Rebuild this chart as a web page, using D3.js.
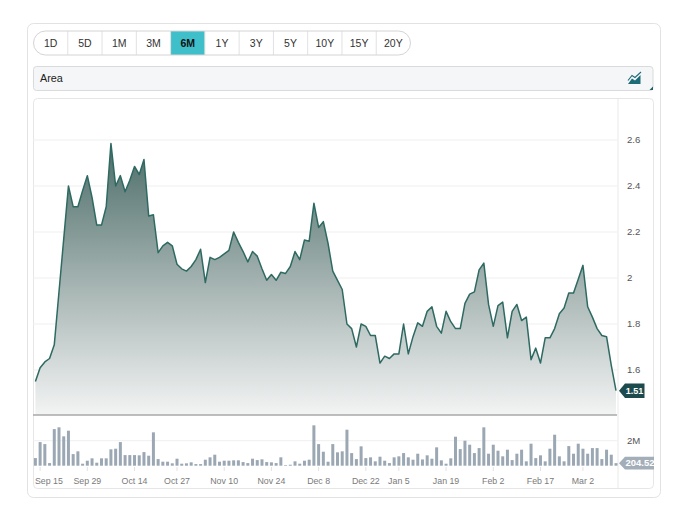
<!DOCTYPE html>
<html><head><meta charset="utf-8">
<script src="https://cdn.jsdelivr.net/npm/d3@7"></script>
<style>
html,body{margin:0;padding:0;background:#fff;}
svg{display:block;font-family:"Liberation Sans",Arial,sans-serif;}
</style></head><body>
<svg id="c" width="680" height="515"></svg>
<script>
// ---------------- data ----------------
const ranges = ["1D","5D","1M","3M","6M","1Y","3Y","5Y","10Y","15Y","20Y"];
const selectedRange = "6M";
const chartType = "Area";
const startDate = "2025-09-12";
const holidays = ["2025-10-13","2025-12-25","2025-12-26","2026-01-01","2026-02-16"];
const price = [
 1.55,1.61,1.635,1.65,1.71,1.94,2.17,2.40,2.31,2.31,
 2.38,2.445,2.35,2.23,2.23,2.31,2.585,2.40,2.445,2.375,
 2.425,2.485,2.45,2.515,2.27,2.275,2.11,2.14,2.155,2.14,
 2.06,2.04,2.03,2.05,2.08,2.125,1.98,2.09,2.08,2.09,
 2.105,2.12,2.20,2.155,2.115,2.07,2.115,2.095,2.04,1.99,
 2.015,1.99,2.025,2.02,2.05,2.115,2.08,2.165,2.16,2.325,
 2.22,2.245,2.15,2.03,1.99,1.95,1.80,1.78,1.70,1.80,
 1.79,1.75,1.75,1.63,1.66,1.65,1.67,1.67,1.80,1.67,
 1.745,1.805,1.79,1.855,1.875,1.79,1.76,1.855,1.81,1.78,
 1.78,1.89,1.93,1.94,2.035,2.065,1.885,1.79,1.88,1.895,
 1.74,1.855,1.885,1.815,1.83,1.645,1.695,1.63,1.74,1.74,
 1.78,1.845,1.87,1.935,1.935,1.995,2.055,1.875,1.83,1.78,
 1.75,1.745,1.62,1.51
];
const volumeM = [
 0.61,1.89,1.73,0.21,2.93,3.07,2.35,2.80,0.93,1.15,
 0.16,0.40,0.59,0.24,0.59,0.59,1.31,1.36,1.89,0.85,
 0.85,0.85,0.83,1.09,0.80,2.67,0.53,0.32,0.32,0.19,
 0.56,0.16,0.19,0.27,0.13,0.13,0.48,0.67,0.88,0.32,
 0.40,0.40,0.43,0.43,0.29,0.21,0.56,0.45,0.51,0.29,
 0.27,0.21,0.67,0.05,0.08,0.35,0.16,0.40,0.48,3.23,
 1.73,1.12,0.32,1.73,1.07,1.15,2.88,1.01,0.53,1.55,
 0.61,0.67,0.35,0.72,0.40,0.21,0.67,0.75,1.01,0.67,
 0.48,0.96,0.50,0.83,0.56,1.47,0.43,0.16,0.59,2.32,
 1.33,2.00,1.68,1.01,1.41,3.07,0.96,1.68,1.20,0.75,
 1.28,0.45,0.96,1.28,0.35,1.76,0.61,0.83,0.35,1.36,
 2.48,0.75,0.35,1.57,0.96,1.76,1.36,0.96,1.41,1.41,
 0.53,1.28,0.88,0.2045
];
const priceTicks = [1.6,1.8,2,2.2,2.4,2.6];
const volumeTicks = [2];
const dateTickLabels = ["Sep 15","Sep 29","Oct 14","Oct 27","Nov 10","Nov 24","Dec 8","Dec 22","Jan 5","Jan 19","Feb 2","Feb 17","Mar 2"];
const lastPriceLabel = "1.51";
const lastVolumeLabel = "204.52K";

// ---------------- trading dates ----------------
const parse = d3.utcParse("%Y-%m-%d"), keyFmt = d3.utcFormat("%Y-%m-%d"), lblFmt = d3.utcFormat("%b %-d");
const hol = new Set(holidays);
const dates = [];
let cur = parse(startDate);
while (dates.length < price.length) {
  const wd = cur.getUTCDay();
  if (wd !== 0 && wd !== 6 && !hol.has(keyFmt(cur))) dates.push(cur);
  cur = d3.utcDay.offset(cur, 1);
}

// ---------------- layout ----------------
const svg = d3.select("#c");
const L = 33, R = 617, priceTop = 98, priceBot = 415, volBase = 465.7;

// card
svg.append("rect").attr("x",27.5).attr("y",23.5).attr("width",633).attr("height",474)
  .attr("rx",6).attr("fill","#fff").attr("stroke","#e2e2e2");

// range buttons
const bx = d3.scaleBand().domain(ranges).range([33.5, 410.5]);
const btn = svg.append("g");
btn.append("clipPath").attr("id","pill").append("rect")
  .attr("x",33.5).attr("y",31).attr("width",377).attr("height",24).attr("rx",12);
btn.append("rect").attr("x",33.5).attr("y",31).attr("width",377).attr("height",24).attr("rx",12)
  .attr("fill","#fff");
btn.append("rect").attr("clip-path","url(#pill)")
  .attr("x",bx(selectedRange)).attr("y",31).attr("width",bx.bandwidth()).attr("height",24)
  .attr("fill","#3fbfca");
btn.selectAll("line.div").data(ranges.slice(1)).join("line")
  .attr("x1",d=>bx(d)).attr("x2",d=>bx(d)).attr("y1",31).attr("y2",55)
  .attr("stroke","#e1e1e1");
btn.append("rect").attr("x",33.5).attr("y",31).attr("width",377).attr("height",24).attr("rx",12)
  .attr("fill","none").attr("stroke","#d4d4d4");
btn.selectAll("text").data(ranges).join("text")
  .attr("x",d=>bx(d)+bx.bandwidth()/2).attr("y",46.8).attr("text-anchor","middle")
  .attr("font-size",10.5).attr("font-weight",d=>d===selectedRange?"bold":"normal")
  .attr("fill",d=>d===selectedRange?"#111":"#333").text(d=>d);

// chart-type dropdown
svg.append("rect").attr("x",33.5).attr("y",66.5).attr("width",619.5).attr("height",24).attr("rx",3)
  .attr("fill","#f5f6f7").attr("stroke","#d9dadb");
svg.append("text").attr("x",40).attr("y",82).attr("font-size",10.8).attr("fill","#222").text(chartType);
const ic = svg.append("g");
ic.append("path").attr("d","M628,84 L632,78.5 L635,80.5 L640.5,75 L640.5,84 Z").attr("fill","#1e6b78");
ic.append("path").attr("d","M628,80.5 L632,75.5 L635,77.5 L641,72").attr("fill","none")
  .attr("stroke","#1e6b78").attr("stroke-width",1.1);
svg.append("path").attr("d","M653,86.5 L653,90 L649.5,90 Z").attr("fill","#1e5f6a");

// chart box
svg.append("rect").attr("x",33.5).attr("y",98.5).attr("width",620).attr("height",390).attr("rx",4)
  .attr("fill","#fff").attr("stroke","#e6e6e6");
svg.append("line").attr("x1",618).attr("x2",618).attr("y1",99).attr("y2",488)
  .attr("stroke","#e9e9e9");

// scales
const x = d3.scaleLinear().domain([0, price.length-1]).range([35.4, 616]);
const y = d3.scaleLinear().domain([1.6, 2.6]).range([370, 140]);
const yv = d3.scaleLinear().domain([0, 2]).range([volBase, 440.7]);

// clip
const defs = svg.append("defs");
defs.append("clipPath").attr("id","plot").append("rect")
  .attr("x",L).attr("y",priceTop).attr("width",R-L).attr("height",priceBot-priceTop);
defs.append("clipPath").attr("id","box").append("rect")
  .attr("x",33).attr("y",98).attr("width",621).attr("height",391);
const grad = defs.append("linearGradient").attr("id","grad")
  .attr("gradientUnits","userSpaceOnUse").attr("x1",0).attr("x2",0).attr("y1",140).attr("y2",priceBot);
grad.append("stop").attr("offset",0).attr("stop-color","#4a6b67");
grad.append("stop").attr("offset",0.55).attr("stop-color","#a9b7b5");
grad.append("stop").attr("offset",1).attr("stop-color","#f3f4f4");

// gridlines
svg.append("g").selectAll("line").data(priceTicks).join("line")
  .attr("x1",L).attr("x2",R).attr("y1",d=>y(d)).attr("y2",d=>y(d))
  .attr("stroke","#efefef");
svg.append("g").selectAll("line").data(volumeTicks).join("line")
  .attr("x1",L).attr("x2",R).attr("y1",d=>yv(d)).attr("y2",d=>yv(d))
  .attr("stroke","#efefef");

// area + line
const g = svg.append("g").attr("clip-path","url(#plot)");
g.append("path").datum(price)
  .attr("d", d3.area().x((d,i)=>x(i)).y0(priceBot).y1(d=>y(d)))
  .attr("fill","url(#grad)");
g.append("path").datum(price)
  .attr("d", d3.line().x((d,i)=>x(i)).y(d=>y(d)))
  .attr("fill","none").attr("stroke","#2e6a62").attr("stroke-width",1.5).attr("stroke-linejoin","round");

// separator
svg.append("line").attr("x1",L).attr("x2",R).attr("y1",priceBot).attr("y2",priceBot)
  .attr("stroke","#a8a8a8").attr("stroke-width",1.6);

// volume bars
svg.append("g").selectAll("rect").data(volumeM).join("rect")
  .attr("x",(d,i)=>x(i)-1.5).attr("width",3)
  .attr("y",d=>yv(d)).attr("height",d=>volBase-yv(d))
  .attr("fill","#9ba8b4");

// y axis labels
const fmt = d => String(+d.toFixed(1));
svg.append("g").selectAll("text").data(priceTicks).join("text")
  .attr("x",627).attr("y",d=>y(d)).attr("dy","0.35em")
  .attr("font-size",9.6).attr("fill","#555").text(fmt);
svg.append("g").selectAll("text").data(volumeTicks).join("text")
  .attr("x",627).attr("y",d=>yv(d)).attr("dy","0.35em")
  .attr("font-size",9.6).attr("fill","#555").text(d=>d+"M");

// last price tag
const lp = price[price.length-1], ly = y(lp);
svg.append("path").attr("d",`M619,${ly} L625,${ly-7.2} L644.5,${ly-7.2} L644.5,${ly+7.2} L625,${ly+7.2} Z`)
  .attr("fill","#1d4b4d");
svg.append("text").attr("x",634.5).attr("y",ly).attr("dy","0.35em").attr("text-anchor","middle")
  .attr("font-size",9).attr("font-weight","bold").attr("fill","#fff").text(lastPriceLabel);

// last volume tag
const lv = volumeM[volumeM.length-1], lvy = yv(lv);
const tg = svg.append("g").attr("clip-path","url(#box)");
tg.append("path").attr("d",`M619,${lvy} L625,${lvy-6.3} L665,${lvy-6.3} L665,${lvy+6.3} L625,${lvy+6.3} Z`)
  .attr("fill","#a3aeb9");
tg.append("text").attr("x",625.5).attr("y",lvy).attr("dy","0.35em")
  .attr("font-size",9.5).attr("font-weight","bold").attr("fill","#fff").text(lastVolumeLabel);

// x axis
const tickIdx = dateTickLabels.map(lb => ({lb, i: dates.findIndex(d => lblFmt(d) === lb)})).filter(t => t.i >= 0);
svg.append("g").selectAll("line").data(tickIdx).join("line")
  .attr("x1",t=>x(t.i)).attr("x2",t=>x(t.i)).attr("y1",467).attr("y2",471)
  .attr("stroke","#e2e2e2");
const xl = svg.append("g").selectAll("text").data(tickIdx).join("text")
  .attr("x",t=>x(t.i)).attr("y",484).attr("text-anchor","middle")
  .attr("font-size",8.8).attr("fill","#7a7a7a").text(t=>t.lb);
xl.each(function(){
  const w = this.getComputedTextLength(), cx = +this.getAttribute("x");
  if (cx - w/2 < L + 2) d3.select(this).attr("x", L + 2 + w/2);
});
</script>
</body></html>
